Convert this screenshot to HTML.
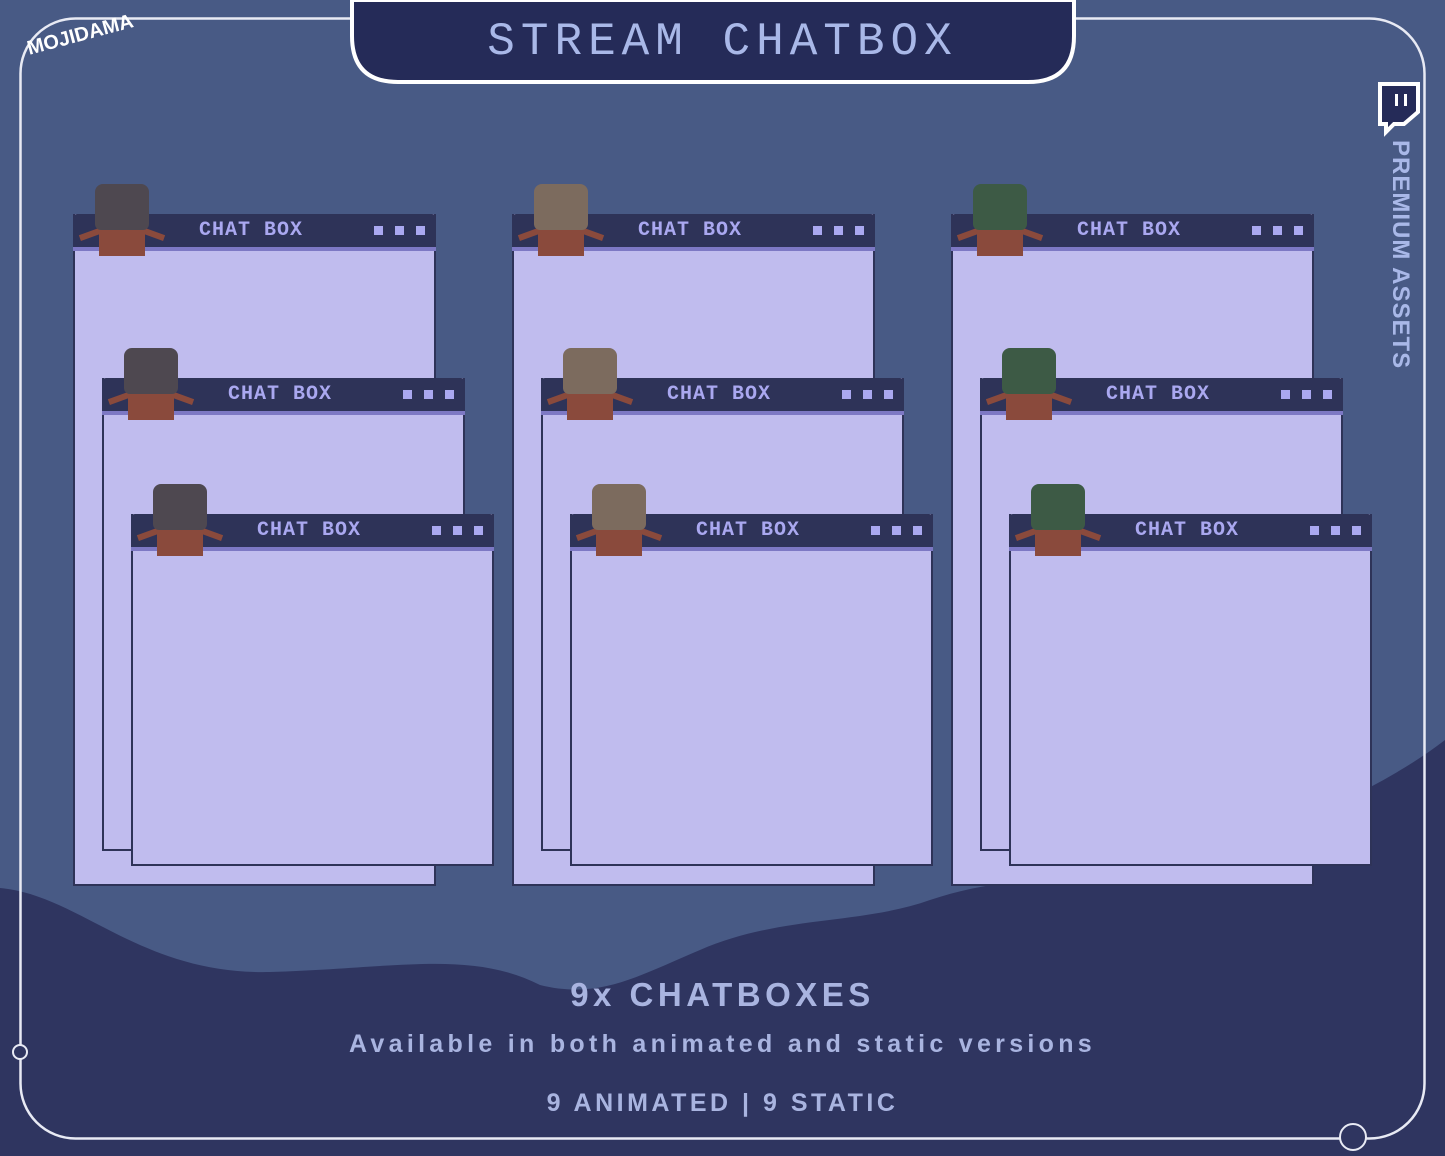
<!DOCTYPE html>
<html><head><meta charset="utf-8"><style>
*{margin:0;padding:0;box-sizing:border-box}
body{width:1445px;height:1156px;overflow:hidden;background:#485a85;position:relative;font-family:"Liberation Sans",sans-serif}
.box{position:absolute;width:363px;background:#c0bcee;border:2px solid #2e3358;border-top:none}
.hd{position:absolute;left:-2px;right:-2px;top:0;height:37px;background:#2e3358;border-bottom:4px solid #7d78c4;border-radius:4px 4px 0 0}
.hd span{position:absolute;left:108px;width:140px;top:5px;text-align:center;color:#aaa8f0;font:bold 20px "Liberation Mono",monospace;letter-spacing:1px}
.dot{position:absolute;top:12px;width:9px;height:9px;background:#aaa8f0}
.ch{position:absolute;width:90px;height:70px}
.head{position:absolute;left:18px;top:0;width:54px;height:46px;border-radius:8px 8px 6px 6px}
.body{position:absolute;left:22px;top:42px;width:46px;height:30px;background:#8a4a3c}
.arm{position:absolute;top:46px;width:30px;height:6px;background:#8a4a3c}
.txt{position:absolute;left:0;width:1445px;text-align:center;color:#a9b4e0}
</style></head><body>
<svg width="1445" height="1156" style="position:absolute;left:0;top:0">
<path d="M0,888 C80,895 140,975 270,972 C400,968 470,950 540,985 C600,1000 640,975 700,950 C780,915 860,925 930,900 C1050,860 1120,900 1210,860 C1300,820 1380,790 1445,740 L1445,1156 L0,1156 Z" fill="#2f3560"/>
<rect x="20.5" y="18.5" width="1404" height="1120" rx="55" fill="none" stroke="#e8eaf4" stroke-width="2.5"/>
<circle cx="20" cy="1052" r="7" fill="#2f3560" stroke="#e8eaf4" stroke-width="2"/>
<circle cx="1353" cy="1137" r="13" fill="#2f3560" stroke="#e8eaf4" stroke-width="2"/>
<path d="M352,0 L352,36 Q352,82 398,82 L1028,82 Q1074,82 1074,36 L1074,0 Z" fill="#252b58" stroke="#fff" stroke-width="4"/>
<path d="M1380,84 L1418,84 L1418,112 L1404,124 L1394,124 L1386,132 L1386,124 L1380,124 Z" fill="#252b58" stroke="#fff" stroke-width="4"/>
<rect x="1395" y="94" width="3" height="12" fill="#fff"/><rect x="1404" y="94" width="3" height="12" fill="#fff"/>
</svg>
<div class="txt" style="top:16px;font:46px 'Liberation Mono',monospace;color:#a9b8e8;letter-spacing:6px">STREAM CHATBOX</div>
<div style="position:absolute;left:26px;top:24px;color:#fff;font:900 20px 'Liberation Sans',sans-serif;transform:rotate(-15deg)">MOJIDAMA</div>
<div style="position:absolute;left:1384px;top:140px;width:30px;writing-mode:vertical-rl;color:#a9b8e8;font:bold 24px 'Liberation Sans',sans-serif;letter-spacing:1px">PREMIUM ASSETS</div>

<div id="boxes"></div>

<div class="txt" style="top:976px;font-size:33px;letter-spacing:4.5px;font-weight:bold">9x CHATBOXES</div>
<div class="txt" style="top:1030px;font-size:25px;letter-spacing:4.3px;font-weight:bold">Available in both animated and static versions</div>
<div class="txt" style="top:1089px;font-size:25px;letter-spacing:3.5px;font-weight:bold">9 ANIMATED | 9 STATIC</div>
<script>
var cols=[[73,'#4e4850'],[512,'#7c6b5e'],[951,'#3d5a45']];
var h='';
cols.forEach(function(c){
 var x=c[0],col=c[1];
 [[0,214,886],[29,378,851],[58,514,866]].forEach(function(b){
  var bx=x+b[0],by=b[1],bh=b[2]-b[1];
  h+='<div class="box" style="left:'+bx+'px;top:'+by+'px;height:'+bh+'px"><div class="hd"><span>CHAT BOX</span><div class="dot" style="left:301px"></div><div class="dot" style="left:322px"></div><div class="dot" style="left:343px"></div></div></div>';
  h+='<div class="ch" style="left:'+(bx+4)+'px;top:'+(by-30)+'px"><div class="arm" style="left:2px;transform:rotate(-20deg)"></div><div class="arm" style="left:58px;transform:rotate(20deg)"></div><div class="body"></div><div class="head" style="background:'+col+'"></div></div>';
 });
});
document.getElementById('boxes').innerHTML=h;
</script>
</body></html>
